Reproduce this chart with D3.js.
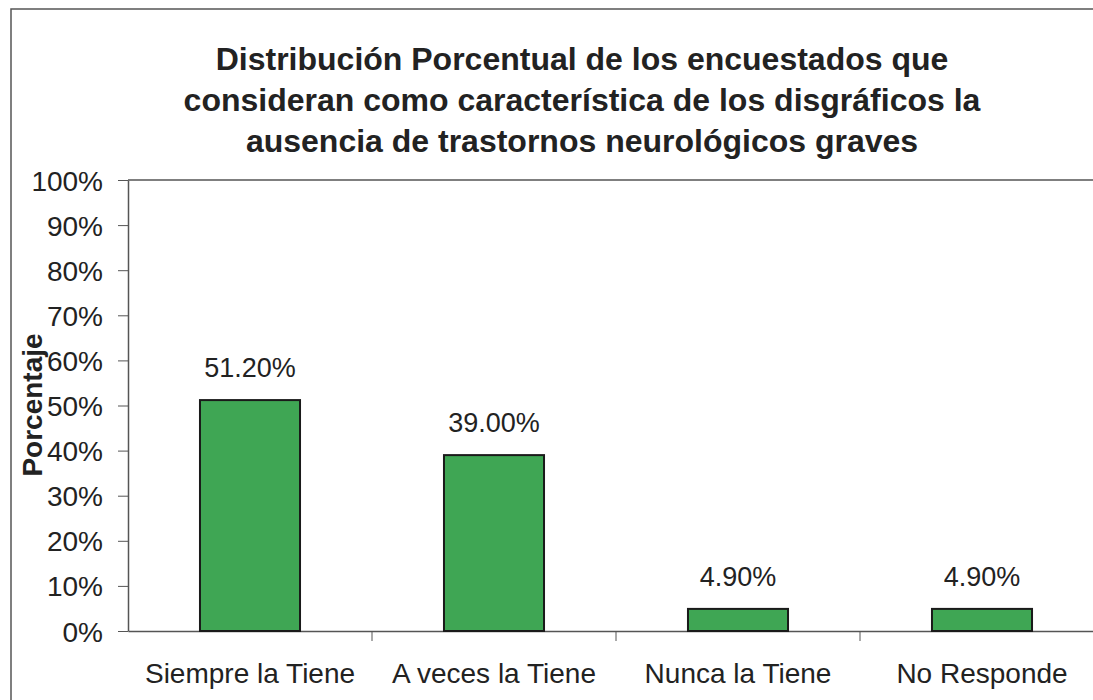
<!DOCTYPE html>
<html>
<head>
<meta charset="utf-8">
<script src="https://cdn.jsdelivr.net/npm/d3@7"></script>
<style>
  body { margin: 0; background: #fff; }
  text { font-family: Arial, "Liberation Sans", sans-serif; fill: #222; }
</style>
</head>
<body>
<svg id="chart"></svg>
<script>
// chart data
var categories = ["Siempre la Tiene", "A veces la Tiene", "Nunca la Tiene", "No Responde"];
var values = [51.2, 39.0, 4.9, 4.9];
var yTicks = [0, 10, 20, 30, 40, 50, 60, 70, 80, 90, 100];
var titleLines = [
  "Distribución Porcentual de los encuestados que",
  "consideran como característica de los disgráficos la",
  "ausencia de trastornos neurológicos graves"
];

var W = 1093, H = 700;
var margin = { top: 180, right: -11, bottom: 69, left: 128 },
    w = W - margin.left - margin.right,
    h = H - margin.top - margin.bottom;

var svg = d3.select("#chart").attr("width", W).attr("height", H);

// outer frame
svg.append("path")
  .attr("d", "M11,700 V9 H1093")
  .attr("fill", "none").attr("stroke", "#555").attr("stroke-width", 1.5);

// title
svg.selectAll(".title").data(titleLines).join("text")
  .attr("class", "title")
  .attr("x", 582)
  .attr("y", (d, i) => 70 + i * 41)
  .attr("text-anchor", "middle")
  .style("font-size", "32px")
  .style("font-weight", "bold")
  .text(d => d);

var g = svg.append("g").attr("transform", `translate(${margin.left}, ${margin.top})`);

var x = d3.scaleBand().domain(categories).range([0, w]).paddingInner(0).paddingOuter(0);
var y = d3.scaleLinear().domain([0, 100]).range([h, 0]);

// plot area frame top
g.append("line").attr("x1", 0).attr("x2", w).attr("y1", 0).attr("y2", 0)
  .attr("stroke", "#555").attr("stroke-width", 1.5);

// y axis
var yAxis = g.append("g").call(d3.axisLeft(y).tickValues(yTicks).tickFormat(d => d + "%").tickSize(10).tickSizeOuter(0));
yAxis.select(".domain").attr("stroke", "#555").attr("stroke-width", 1.5);
yAxis.selectAll(".tick line").attr("stroke", "#555");
yAxis.selectAll("text").style("font-size", "28px").attr("x", -25).attr("dy", "0.36em");

// x axis
var xAxis = g.append("g").attr("transform", `translate(0, ${h})`)
  .call(d3.axisBottom(x).tickSize(0).tickSizeOuter(0));
xAxis.select(".domain").attr("stroke", "#555").attr("stroke-width", 1.5);
xAxis.selectAll("text").style("font-size", "28px").attr("y", 52).attr("dy", "0");
// category separators
g.selectAll(".sep").data(categories.slice(1)).join("line")
  .attr("class", "sep")
  .attr("x1", d => x(d)).attr("x2", d => x(d))
  .attr("y1", h).attr("y2", h + 10)
  .attr("stroke", "#555");

// bars
var bw = x.bandwidth() * 0.41;
g.selectAll(".bar").data(values).join("rect")
  .attr("class", "bar")
  .attr("x", (d, i) => x(categories[i]) + x.bandwidth() / 2 - bw / 2)
  .attr("y", d => y(d))
  .attr("width", bw)
  .attr("height", d => h - y(d))
  .attr("fill", "#3fa654")
  .attr("stroke", "#1a1a1a")
  .attr("stroke-width", 2);

// value labels
g.selectAll(".val").data(values).join("text")
  .attr("class", "val")
  .attr("x", (d, i) => x(categories[i]) + x.bandwidth() / 2)
  .attr("y", d => y(d) - 23)
  .attr("text-anchor", "middle")
  .style("font-size", "27px")
  .text(d => d.toFixed(2) + "%");

// y label
svg.append("text")
  .attr("transform", "translate(42, 405) rotate(-90)")
  .attr("text-anchor", "middle")
  .style("font-size", "28px")
  .style("font-weight", "bold")
  .text("Porcentaje");
</script>
</body>
</html>
